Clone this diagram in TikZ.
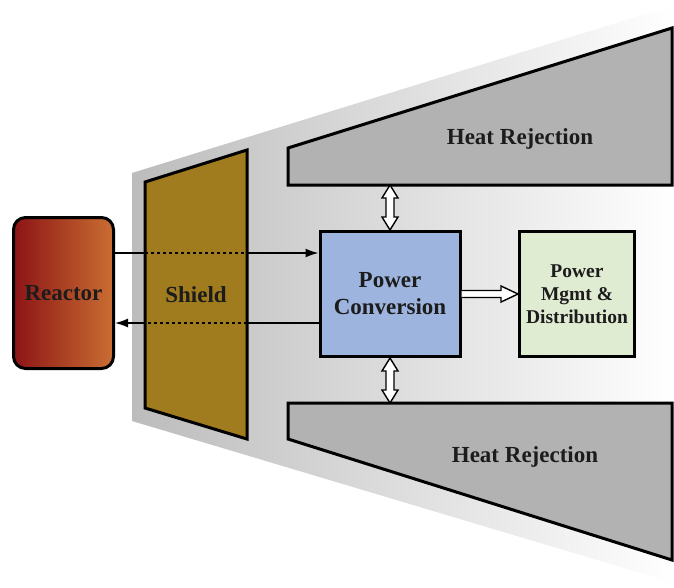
\documentclass[tikz,border=0pt]{standalone}
\usepackage{fontspec}
\setmainfont{Liberation Serif}
\usetikzlibrary{arrows.meta,calc}
\definecolor{shieldc}{RGB}{160,124,30}
\definecolor{hrc}{RGB}{178,178,178}
\definecolor{pcc}{RGB}{157,180,222}
\definecolor{pmdc}{RGB}{224,236,210}
\definecolor{reacl}{RGB}{140,20,22}
\definecolor{reacr}{RGB}{202,110,50}
\definecolor{txt}{RGB}{28,28,28}
\definecolor{bgl}{RGB}{188,188,188}
\tikzset{
  boxline/.style={draw=black, line width=3pt},
  lbl/.style={text=txt, font=\bfseries\fontsize{23}{27}\selectfont, align=center, inner sep=0pt},
  smalllbl/.style={text=txt, font=\bfseries\fontsize{19.5}{23}\selectfont, align=center, inner sep=0pt},
  flow/.style={line width=1.5pt, draw=black},
  dotflow/.style={line width=1.5pt, draw=black, dash pattern=on 3pt off 3pt},
  hollow/.style={line width=1.4pt, draw=black, fill=white, line join=miter},
}
\begin{document}
\begin{tikzpicture}[x=1pt,y=-1pt]
\useasboundingbox (0,0) rectangle (674,587);
% background
\shade[left color=bgl, right color=white] (132,173) -- (674,5) -- (674,583) -- (132,421) -- cycle;
% shield
\draw[boxline, fill=shieldc] (145,182) -- (247,150) -- (247,439) -- (145,408) -- cycle;
\node[lbl] (shield) at (196,295) {Shield};
% heat rejection top
\coordinate (hta) at (288,148);
\coordinate (htb) at (672,28);
\coordinate (htc) at (672,185);
\coordinate (htd) at (288,185);
\draw[boxline, fill=hrc] (hta) -- (htb) -- (htc) -- (htd) -- cycle;
\node[lbl] (hrtop) at (520,139) {Heat Rejection};
% heat rejection bottom
\coordinate (hba) at (288,403);
\coordinate (hbb) at (672,403);
\coordinate (hbc) at (672,560);
\coordinate (hbd) at (288,439);
\draw[boxline, fill=hrc] (hba) -- (hbb) -- (hbc) -- (hbd) -- cycle;
\node[lbl] (hrbot) at (525,457) {Heat Rejection};
% reactor
\node[boxline, rounded corners=12pt, left color=reacl, right color=reacr,
      minimum width=100pt, minimum height=151pt, inner sep=0pt] (reactor) at (63.5,293) {};
\node[lbl] at (reactor.center) {Reactor};
% power conversion
\node[boxline, fill=pcc, minimum width=140pt, minimum height=125pt, lbl] (pc) at (390,294) {Power\\Conversion};
% pmd
\node[boxline, fill=pmdc, minimum width=115pt, minimum height=125pt, smalllbl] (pmd) at (577,294) {Power\\Mgmt \&\\Distribution};
% flow arrows
\path (reactor.east) ++(0,-40) coordinate (ra);
\coordinate (s1) at (145,253);
\coordinate (s2) at (247,253);
\draw[flow] (ra) -- (s1);
\draw[dotflow] (s1) -- (s2);
\draw[flow, -{Latex[length=13pt,width=9pt]}] (s2) -- (pc.west |- ra);
\path (pc.west) ++(0,29) coordinate (pb);
\coordinate (s3) at (247,323);
\coordinate (s4) at (145,323);
\draw[flow] (pb) -- (s3);
\draw[dotflow] (s3) -- (s4);
\draw[flow, -{Latex[length=13pt,width=9pt]}] (s4) -- (reactor.east |- pb);
% hollow double arrows
\coordinate (t1) at (pc.north |- htc);
\draw[hollow] (t1) -- ++(8,13) -- ++(-4,0) -- ($(pc.north)+(4,-13)$) -- ++(4,0) -- (pc.north)
  -- ++(-8,-13) -- ++(4,0) -- ($(t1)+(-4,13)$) -- ++(-4,0) -- cycle;
\coordinate (t2) at (pc.south |- hba);
\draw[hollow] (pc.south) -- ++(8,13) -- ++(-4,0) -- ($(t2)+(4,-13)$) -- ++(4,0) -- (t2)
  -- ++(-8,-13) -- ++(4,0) -- ($(pc.south)+(-4,13)$) -- ++(-4,0) -- cycle;
% hollow arrow pc -> pmd
\draw[hollow] ($(pc.east)+(0,-3.5)$) -- ($(pmd.west)+(-17,-3.5)$) -- ++(0,-4.5) -- (pmd.west)
  -- ++(-17,8) -- ++(0,-4.5) -- ($(pc.east)+(0,3.5)$);
\end{tikzpicture}
\end{document}
